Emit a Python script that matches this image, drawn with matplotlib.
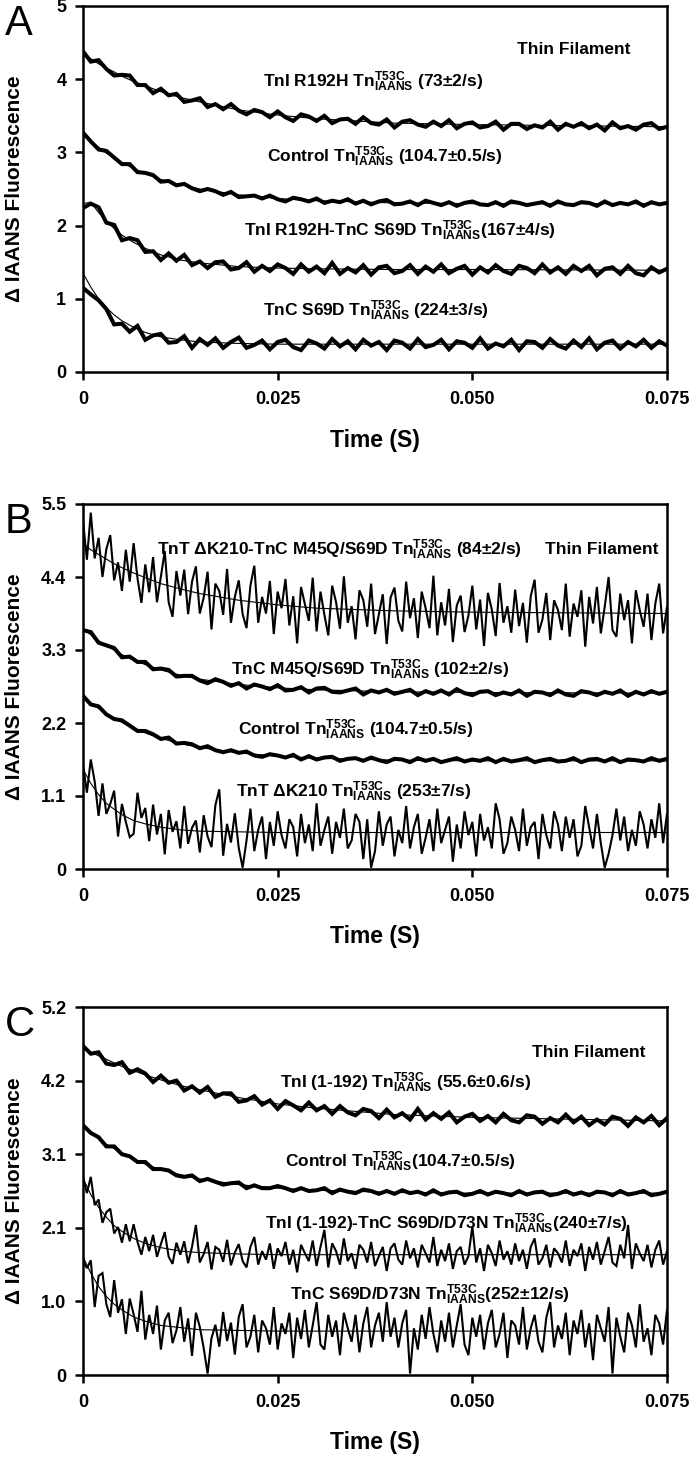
import matplotlib
matplotlib.use('Agg')
import matplotlib.pyplot as plt
import numpy as np

plt.rcParams['font.family'] = ['Liberation Sans', 'DejaVu Sans']
plt.rcParams['mathtext.fontset'] = 'custom'
plt.rcParams['mathtext.rm'] = 'Liberation Sans:bold'
plt.rcParams['mathtext.it'] = 'Liberation Sans:bold'
plt.rcParams['mathtext.bf'] = 'Liberation Sans:bold'

# ---- stopped-flow traces read off the figure (time runs 0 .. 0.075 s, evenly sampled) ----
# panel A
a_r192h = [4.38, 4.24, 4.26, 4.14, 4.05, 4.06, 4.05, 3.92, 3.92, 3.81,
           3.87, 3.78, 3.80, 3.69, 3.71, 3.74, 3.62, 3.66, 3.59, 3.66,
           3.57, 3.52, 3.58, 3.55, 3.48, 3.56, 3.48, 3.43, 3.52, 3.49,
           3.43, 3.50, 3.40, 3.45, 3.46, 3.39, 3.48, 3.40, 3.38, 3.45,
           3.34, 3.42, 3.44, 3.38, 3.35, 3.42, 3.36, 3.44, 3.33, 3.39,
           3.41, 3.34, 3.36, 3.42, 3.31, 3.39, 3.39, 3.32, 3.37, 3.34,
           3.42, 3.31, 3.39, 3.35, 3.40, 3.33, 3.38, 3.30, 3.41, 3.33,
           3.36, 3.31, 3.38, 3.40, 3.32, 3.35]
a_control = [3.27, 3.15, 3.04, 3.02, 2.93, 2.84, 2.84, 2.73, 2.72, 2.69,
             2.60, 2.61, 2.55, 2.57, 2.51, 2.47, 2.50, 2.47, 2.42, 2.46,
             2.39, 2.40, 2.41, 2.37, 2.41, 2.36, 2.33, 2.38, 2.36, 2.33,
             2.37, 2.31, 2.34, 2.32, 2.36, 2.30, 2.34, 2.29, 2.33, 2.35,
             2.29, 2.30, 2.33, 2.28, 2.34, 2.31, 2.28, 2.32, 2.27, 2.31,
             2.33, 2.29, 2.28, 2.32, 2.27, 2.33, 2.31, 2.28, 2.30, 2.32,
             2.27, 2.33, 2.29, 2.28, 2.32, 2.31, 2.27, 2.33, 2.28, 2.31,
             2.29, 2.33, 2.27, 2.32, 2.29, 2.31]
a_r192h_s69d = [2.24, 2.30, 2.25, 2.04, 2.01, 1.80, 1.83, 1.80, 1.64, 1.65,
                1.53, 1.62, 1.52, 1.60, 1.46, 1.51, 1.42, 1.50, 1.51, 1.40,
                1.42, 1.50, 1.37, 1.45, 1.38, 1.47, 1.42, 1.34, 1.47, 1.37,
                1.44, 1.35, 1.49, 1.34, 1.42, 1.36, 1.46, 1.33, 1.43, 1.45,
                1.35, 1.38, 1.46, 1.34, 1.44, 1.37, 1.47, 1.35, 1.41, 1.45,
                1.33, 1.43, 1.36, 1.46, 1.38, 1.34, 1.45, 1.42, 1.35, 1.47,
                1.36, 1.43, 1.34, 1.45, 1.38, 1.45, 1.32, 1.41, 1.43, 1.34,
                1.45, 1.35, 1.32, 1.43, 1.36, 1.41]
a_s69d = [1.15, 1.06, 0.98, 0.86, 0.65, 0.66, 0.55, 0.63, 0.44, 0.50,
          0.52, 0.40, 0.41, 0.49, 0.33, 0.45, 0.37, 0.46, 0.33, 0.41,
          0.47, 0.33, 0.37, 0.43, 0.31, 0.41, 0.44, 0.34, 0.30, 0.43,
          0.39, 0.32, 0.45, 0.35, 0.42, 0.31, 0.44, 0.36, 0.41, 0.30,
          0.43, 0.40, 0.32, 0.45, 0.34, 0.37, 0.44, 0.31, 0.42, 0.40,
          0.33, 0.46, 0.32, 0.39, 0.35, 0.44, 0.30, 0.42, 0.41, 0.33,
          0.45, 0.36, 0.32, 0.43, 0.34, 0.46, 0.31, 0.40, 0.43, 0.32,
          0.41, 0.35, 0.44, 0.33, 0.42, 0.36]

# panel B
b_k210_m45q = [5.25, 4.66, 5.37, 4.68, 4.99, 4.40, 4.82, 5.03, 4.35, 4.62,
               4.19, 4.81, 4.33, 4.91, 4.38, 4.01, 4.59, 4.17, 4.70, 4.02,
               4.40, 4.79, 4.02, 3.80, 4.49, 4.12, 4.51, 3.84, 4.33, 4.56,
               3.85, 4.09, 4.48, 3.61, 4.30, 4.19, 3.83, 4.52, 3.71, 4.10,
               4.35, 3.84, 3.63, 4.27, 4.57, 3.71, 4.10, 3.85, 4.34, 3.54,
               4.18, 3.93, 4.37, 3.67, 4.11, 3.40, 4.25, 3.99, 3.74, 4.39,
               3.58, 4.18, 3.83, 3.52, 4.27, 4.02, 3.62, 4.41, 3.71, 3.96,
               3.46, 4.20, 4.05, 3.65, 4.30, 3.54, 3.84, 4.14, 3.39, 4.09,
               4.24, 3.74, 3.58, 4.33, 3.78, 4.08, 3.48, 4.18, 3.93, 3.63,
               4.42, 3.52, 4.02, 3.67, 4.22, 3.42, 3.97, 4.12, 3.57, 3.82,
               4.27, 3.61, 4.06, 3.36, 4.16, 3.91, 3.51, 4.31, 3.71, 3.96,
               3.56, 4.21, 3.66, 4.01, 3.41, 4.11, 4.36, 3.56, 3.76, 4.16,
               3.45, 4.05, 3.90, 3.60, 4.30, 3.50, 4.00, 3.80, 4.20, 3.35,
               4.10, 3.70, 4.25, 3.55, 3.95, 4.40, 3.60, 3.50, 4.15, 3.75,
               4.05, 3.40, 4.20, 3.90, 3.65, 4.15, 3.45, 4.00, 4.30, 3.55,
               3.95]
b_m45q_s69d = [3.60, 3.57, 3.41, 3.37, 3.33, 3.19, 3.20, 3.12, 3.12, 3.01,
               3.02, 3.00, 2.90, 2.91, 2.91, 2.84, 2.80, 2.86, 2.82, 2.76,
               2.80, 2.72, 2.78, 2.75, 2.71, 2.77, 2.69, 2.70, 2.74, 2.66,
               2.72, 2.73, 2.67, 2.66, 2.69, 2.72, 2.63, 2.69, 2.66, 2.70,
               2.64, 2.67, 2.70, 2.62, 2.68, 2.64, 2.69, 2.63, 2.71, 2.65,
               2.62, 2.67, 2.68, 2.62, 2.66, 2.63, 2.69, 2.61, 2.67, 2.66,
               2.62, 2.69, 2.63, 2.61, 2.68, 2.66, 2.62, 2.67, 2.64, 2.69,
               2.61, 2.67, 2.63, 2.68, 2.64, 2.67]
b_control = [2.61, 2.48, 2.45, 2.33, 2.26, 2.24, 2.16, 2.08, 2.08, 2.03,
             1.96, 1.98, 1.89, 1.90, 1.88, 1.82, 1.85, 1.79, 1.76, 1.79,
             1.75, 1.77, 1.71, 1.69, 1.73, 1.71, 1.68, 1.72, 1.65, 1.70,
             1.65, 1.68, 1.69, 1.63, 1.66, 1.67, 1.63, 1.68, 1.64, 1.61,
             1.66, 1.65, 1.61, 1.67, 1.63, 1.66, 1.61, 1.64, 1.67, 1.62,
             1.65, 1.63, 1.67, 1.61, 1.66, 1.62, 1.64, 1.67, 1.61, 1.64,
             1.66, 1.62, 1.63, 1.67, 1.61, 1.65, 1.66, 1.62, 1.67, 1.61,
             1.65, 1.64, 1.62, 1.67, 1.63, 1.66]
b_k210 = [1.58, 1.15, 1.65, 1.32, 0.80, 1.29, 0.83, 0.98, 1.18, 0.49,
          0.98, 0.71, 0.48, 0.53, 1.15, 0.77, 0.92, 0.42, 0.97, 0.52,
          0.83, 0.22, 0.89, 0.56, 0.72, 0.31, 0.95, 0.38, 0.62, 0.73,
          0.25, 0.81, 0.49, 0.33, 0.96, 1.20, 0.20, 0.68, 0.40, 0.84,
          0.32, 0.02, 0.43, 0.91, 0.27, 0.59, 0.79, 0.15, 0.71, 0.35,
          0.87, 0.51, 0.31, 0.75, 0.63, 0.19, 0.83, 0.39, 0.67, 0.27,
          0.99, 0.35, 0.59, 0.79, 0.23, 0.71, 0.47, 0.91, 0.31, 0.43,
          0.83, 0.71, 0.15, 0.75, 0.02, 0.27, 0.87, 0.35, 0.67, 0.79,
          0.19, 0.59, 0.39, 0.95, 0.31, 0.63, 0.83, 0.23, 0.47, 0.75,
          0.27, 0.91, 0.39, 0.59, 0.79, 0.11, 0.67, 0.31, 0.87, 0.51,
          0.71, 0.19, 0.83, 0.43, 0.63, 0.31, 0.99, 0.75, 0.23, 0.39,
          0.79, 0.59, 0.27, 0.91, 0.35, 0.63, 0.71, 0.15, 0.83, 0.51,
          0.31, 0.87, 0.67, 0.27, 0.79, 0.47, 0.75, 0.19, 0.35, 0.95,
          0.63, 0.31, 0.83, 0.39, 0.02, 0.23, 0.51, 0.91, 0.43, 0.79,
          0.27, 0.59, 0.35, 0.87, 0.67, 0.31, 0.75, 0.47, 0.99, 0.39,
          0.83]

# panel C
c_tni192 = [4.65, 4.54, 4.56, 4.40, 4.38, 4.42, 4.27, 4.32, 4.26, 4.14,
            4.23, 4.13, 4.16, 4.02, 4.08, 3.99, 4.07, 3.93, 3.98, 3.98,
            3.86, 3.88, 3.94, 3.82, 3.88, 3.76, 3.87, 3.81, 3.74, 3.85,
            3.74, 3.80, 3.69, 3.80, 3.71, 3.67, 3.76, 3.73, 3.63, 3.75,
            3.64, 3.70, 3.61, 3.76, 3.61, 3.70, 3.62, 3.71, 3.57, 3.65,
            3.69, 3.59, 3.66, 3.57, 3.69, 3.60, 3.57, 3.67, 3.65, 3.55,
            3.63, 3.57, 3.68, 3.57, 3.65, 3.53, 3.61, 3.54, 3.65, 3.62,
            3.52, 3.64, 3.57, 3.66, 3.53, 3.63]
c_control = [3.53, 3.42, 3.36, 3.23, 3.23, 3.12, 3.09, 3.01, 3.01, 2.91,
             2.91, 2.89, 2.82, 2.80, 2.82, 2.74, 2.77, 2.73, 2.69, 2.71,
             2.72, 2.64, 2.68, 2.64, 2.64, 2.67, 2.64, 2.60, 2.64, 2.60,
             2.61, 2.64, 2.57, 2.62, 2.59, 2.57, 2.62, 2.60, 2.56, 2.60,
             2.56, 2.61, 2.57, 2.59, 2.55, 2.61, 2.55, 2.58, 2.59, 2.54,
             2.56, 2.60, 2.55, 2.59, 2.57, 2.54, 2.60, 2.55, 2.58, 2.59,
             2.54, 2.56, 2.60, 2.55, 2.58, 2.54, 2.59, 2.58, 2.54, 2.60,
             2.55, 2.57, 2.60, 2.54, 2.56, 2.59]
c_tni192_s69d_d73n = [2.80, 2.57, 2.80, 2.40, 2.48, 2.15, 2.30, 2.35, 2.00, 2.09,
                      1.87, 2.13, 1.89, 2.13, 1.88, 1.70, 1.95, 1.75, 1.98, 1.67,
                      1.85, 2.02, 1.67, 1.57, 1.87, 1.70, 1.89, 1.58, 1.81, 2.12,
                      1.59, 1.71, 1.88, 1.49, 1.81, 1.77, 1.60, 1.91, 1.55, 1.73,
                      1.85, 1.61, 1.52, 1.81, 1.95, 1.56, 1.75, 1.63, 1.86, 1.50,
                      1.79, 1.68, 1.88, 1.56, 1.77, 1.45, 1.84, 1.72, 1.61, 1.90,
                      1.54, 1.81, 2.05, 1.52, 1.86, 1.75, 1.56, 1.93, 1.61, 1.72,
                      1.50, 1.84, 1.77, 1.59, 1.88, 1.54, 1.68, 1.81, 1.47, 1.79,
                      1.86, 1.63, 1.56, 1.90, 1.65, 1.79, 1.52, 1.84, 1.72, 1.59,
                      1.95, 1.54, 1.77, 1.61, 1.86, 1.50, 1.75, 1.81, 1.56, 1.68,
                      2.10, 1.59, 1.79, 1.47, 1.84, 1.72, 1.54, 1.90, 1.63, 1.75,
                      1.56, 1.86, 1.61, 1.77, 1.50, 1.81, 1.93, 1.56, 1.65, 1.84,
                      1.52, 1.79, 1.72, 1.59, 1.90, 1.54, 1.77, 1.68, 1.86, 1.47,
                      1.81, 1.63, 1.88, 1.56, 1.75, 1.95, 1.59, 1.54, 1.84, 1.65,
                      2.12, 1.50, 1.86, 1.72, 1.61, 1.84, 1.52, 1.77, 1.90, 1.56,
                      1.75]
c_s69d_d73n = [1.62, 1.51, 1.62, 0.96, 1.40, 1.44, 1.00, 0.82, 1.34, 0.88,
               1.07, 0.58, 1.08, 0.86, 0.61, 1.19, 0.50, 0.85, 0.58, 0.98,
               0.36, 0.77, 0.88, 0.45, 0.63, 0.96, 0.47, 0.80, 0.27, 0.88,
               0.68, 0.38, 0.02, 0.52, 0.71, 0.40, 0.89, 0.48, 0.74, 0.29,
               0.82, 1.00, 0.39, 0.54, 0.85, 0.32, 0.77, 0.66, 0.43, 0.96,
               0.36, 0.73, 0.58, 0.88, 0.24, 0.81, 0.51, 0.92, 0.39, 0.70,
               1.03, 0.43, 0.36, 0.85, 0.54, 0.77, 0.28, 0.88, 0.66, 0.47,
               0.85, 0.32, 0.73, 0.96, 0.39, 0.70, 0.88, 0.47, 1.03, 0.54,
               0.81, 0.39, 0.73, 0.92, 0.02, 0.66, 0.36, 0.85, 0.51, 0.96,
               0.58, 0.32, 0.77, 0.47, 0.88, 0.39, 0.70, 1.00, 0.43, 0.28,
               0.81, 0.54, 0.85, 0.36, 0.73, 0.92, 0.39, 0.58, 0.88, 0.24,
               0.77, 0.70, 0.43, 0.96, 0.36, 0.66, 0.85, 0.47, 0.32, 0.81,
               1.03, 0.39, 0.70, 0.51, 0.88, 0.28, 0.77, 0.58, 0.92, 0.39,
               0.73, 0.21, 0.85, 0.66, 0.47, 0.96, 0.02, 0.81, 0.54, 0.32,
               0.88, 0.70, 0.39, 1.00, 0.47, 0.66, 0.28, 0.85, 0.73, 0.43,
               0.92]

# single-exponential fit curves, read at these times
fit_t = [0, 0.001, 0.002, 0.003, 0.004, 0.005, 0.0065, 0.008, 0.01,
         0.0125, 0.015, 0.02, 0.025, 0.03, 0.04, 0.05, 0.075]
fit_a_r192h = [4.35, 4.28, 4.21, 4.15, 4.10, 4.04, 3.97, 3.91, 3.83, 3.75, 3.69, 3.58, 3.51, 3.46, 3.40, 3.38, 3.35]
fit_a_control = [3.25, 3.16, 3.07, 2.99, 2.93, 2.86, 2.78, 2.71, 2.63, 2.56, 2.50, 2.42, 2.37, 2.34, 2.31, 2.30, 2.30]
fit_a_r192h_s69d = [2.30, 2.32, 2.18, 2.06, 1.96, 1.87, 1.77, 1.69, 1.60, 1.53, 1.49, 1.44, 1.42, 1.41, 1.40, 1.40, 1.39]
fit_a_s69d = [1.35, 1.16, 1.00, 0.88, 0.78, 0.70, 0.61, 0.54, 0.48, 0.44, 0.41, 0.39, 0.38, 0.38, 0.38, 0.38, 0.38]
fit_b_k210_m45q = [4.90, 4.81, 4.74, 4.67, 4.60, 4.54, 4.46, 4.39, 4.30, 4.22, 4.15, 4.05, 3.98, 3.93, 3.89, 3.87, 3.85]
fit_b_m45q_s69d = [3.62, 3.53, 3.44, 3.36, 3.30, 3.23, 3.15, 3.08, 3.00, 2.92, 2.86, 2.78, 2.73, 2.70, 2.67, 2.66, 2.65]
fit_b_control = [2.60, 2.50, 2.42, 2.34, 2.27, 2.21, 2.12, 2.05, 1.97, 1.89, 1.83, 1.75, 1.70, 1.67, 1.64, 1.63, 1.63]
fit_b_k210 = [1.50, 1.29, 1.12, 0.99, 0.90, 0.82, 0.73, 0.68, 0.63, 0.59, 0.57, 0.56, 0.55, 0.55, 0.55, 0.55, 0.55]
fit_c_tni192 = [4.62, 4.56, 4.51, 4.46, 4.41, 4.36, 4.30, 4.24, 4.17, 4.09, 4.03, 3.92, 3.83, 3.77, 3.68, 3.64, 3.59]
fit_c_control = [3.52, 3.43, 3.34, 3.26, 3.20, 3.13, 3.05, 2.98, 2.90, 2.83, 2.77, 2.69, 2.64, 2.61, 2.58, 2.57, 2.57]
fit_c_tni192_s69d_d73n = [2.78, 2.55, 2.37, 2.23, 2.11, 2.03, 1.93, 1.86, 1.80, 1.75, 1.73, 1.71, 1.70, 1.70, 1.70, 1.70, 1.70]
fit_c_s69d_d73n = [1.67, 1.44, 1.25, 1.11, 1.00, 0.92, 0.82, 0.76, 0.70, 0.67, 0.64, 0.63, 0.62, 0.62, 0.62, 0.62, 0.62]

TN = r'Tn$^{\mathrm{T53C}}_{\mathrm{IAANS}}$'

labels_a = ['TnI R192H ' + TN + ' (73±2/s)',
            'Control ' + TN + ' (104.7±0.5/s)',
            'TnI R192H-TnC S69D ' + TN + '(167±4/s)',
            'TnC S69D ' + TN + ' (224±3/s)']
labels_b = ['TnT ΔK210-TnC M45Q/S69D ' + TN + ' (84±2/s)',
            'TnC M45Q/S69D ' + TN + ' (102±2/s)',
            'Control ' + TN + ' (104.7±0.5/s)',
            'TnT ΔK210 ' + TN + ' (253±7/s)']
labels_c = ['TnI (1-192) ' + TN + ' (55.6±0.6/s)',
            'Control ' + TN + '(104.7±0.5/s)',
            'TnI (1-192)-TnC S69D/D73N ' + TN + '(240±7/s)',
            'TnC S69D/D73N ' + TN + '(252±12/s)']

xticks = [0, 0.025, 0.05, 0.075]
xticklabels = ['0', '0.025', '0.050', '0.075']
yticks_a = [0, 1, 2, 3, 4, 5]
yticklabels_a = ['0', '1', '2', '3', '4', '5']
yticks_b = [0, 1.1, 2.2, 3.3, 4.4, 5.5]
yticklabels_b = ['0', '1.1', '2.2', '3.3', '4.4', '5.5']
yticks_c = [0, 1.04, 2.08, 3.12, 4.16, 5.2]
yticklabels_c = ['0', '1.0', '2.1', '3.1', '4.2', '5.2']

W, H = 693, 1458
fig = plt.figure(figsize=(W / 100, H / 100), dpi=100)


def panel(top_px, bottom_px, traces, fits, noisy, labels, label_xy, yticks, yticklabels,
          letter, filament_xy):
    ax = fig.add_axes([83 / W, 1 - bottom_px / H, 584 / W, (bottom_px - top_px) / H])
    for y, f, n in zip(traces, fits, noisy):
        t = np.linspace(0, 0.075, len(y))
        ax.plot(t, y, color='black', lw=1.5 if n else 2.9, solid_joinstyle='miter')
        ax.plot(fit_t, f, color='black', lw=0.8)
    for s, (x, y) in zip(labels, label_xy):
        ax.text(x, y, s, ha='center', va='center', fontsize=12.5, fontweight='bold')
    ax.text(filament_xy[0], filament_xy[1], 'Thin Filament', ha='center', va='center',
            fontsize=12.5, fontweight='bold')
    ax.set_xlim(0, 0.075)
    ax.set_ylim(0, yticks[-1])
    ax.set_xticks(xticks)
    ax.set_xticklabels(xticklabels, fontweight='bold')
    ax.set_yticks(yticks)
    ax.set_yticklabels(yticklabels, fontweight='bold')
    ax.tick_params(direction='out', length=6, width=1.8, labelsize=13, pad=6)
    ax.tick_params(axis='x', pad=8)
    for sp in ax.spines.values():
        sp.set_linewidth(1.8)
    ax.set_xlabel('Time (S)', fontsize=16.5, fontweight='bold')
    ax.xaxis.set_label_coords(0.5, -68 / (bottom_px - top_px))
    ax.xaxis.label.set_va('center')
    ax.set_ylabel('Δ IAANS Fluorescence', fontsize=15, fontweight='bold')
    ax.yaxis.set_label_coords(-68 / 584, 0.5)
    ax.yaxis.label.set_va('center')
    fig.text(5 / W, 1 - (top_px + 18) / H, letter, fontsize=30, ha='left', va='center')
    return ax


panel(6, 372,
      [a_r192h, a_control, a_r192h_s69d, a_s69d],
      [fit_a_r192h, fit_a_control, fit_a_r192h_s69d, fit_a_s69d],
      [False, False, False, False],
      labels_a, [(0.0372, 3.96), (0.0388, 2.94), (0.0407, 1.93), (0.0376, 0.84)],
      yticks_a, yticklabels_a, 'A', (0.0630, 4.40))

panel(504, 869,
      [b_k210_m45q, b_m45q_s69d, b_control, b_k210],
      [fit_b_k210_m45q, fit_b_m45q_s69d, fit_b_control, fit_b_k210],
      [True, False, False, True],
      labels_b, [(0.0329, 4.81), (0.0368, 3.00), (0.0350, 2.10), (0.0348, 1.16)],
      yticks_b, yticklabels_b, 'B', (0.0666, 4.81))

panel(1007, 1375,
      [c_tni192, c_control, c_tni192_s69d_d73n, c_s69d_d73n],
      [fit_c_tni192, fit_c_control, fit_c_tni192_s69d_d73n, fit_c_s69d_d73n],
      [False, False, True, True],
      labels_c, [(0.0414, 4.13), (0.0407, 3.01), (0.0467, 2.13), (0.0446, 1.13)],
      yticks_c, yticklabels_c, 'C', (0.0650, 4.56))

fig.savefig('out.png', dpi=100)
